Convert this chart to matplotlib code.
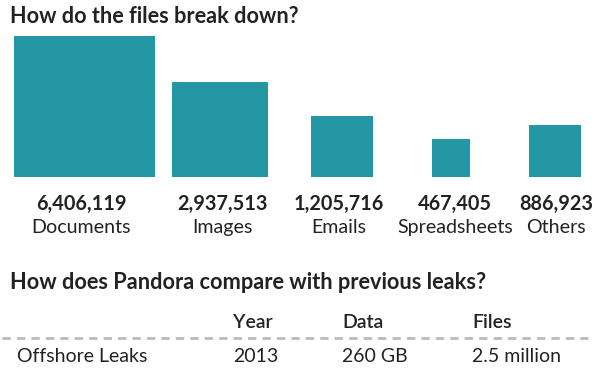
import numpy as np
import matplotlib
matplotlib.use("Agg")
import matplotlib.pyplot as plt

# ---- data ----
categories = ["Documents", "Images", "Emails", "Spreadsheets", "Others"]
file_counts = [6406119, 2937513, 1205716, 467405, 886923]
count_labels = ["6,406,119", "2,937,513", "1,205,716", "467,405", "886,923"]

table_columns = ["Year", "Data", "Files"]
leak_names = ["Offshore Leaks"]
leak_years = ["2013"]
leak_data = ["260 GB"]
leak_files = ["2.5 million"]

title1 = "How do the files break down?"
title2 = "How does Pandora compare with previous leaks?"

# ---- layout ----
W, H = 600, 372
TEAL = "#2397a3"
INK = "#222222"
FONT = "Lato"

fig = plt.figure(figsize=(W / 100, H / 100), dpi=100)
ax = fig.add_axes([0, 0, 1, 1])
ax.set_xlim(0, W)
ax.set_ylim(H, 0)
ax.axis("off")

col_centers = [84, 220, 342, 451, 555]
base_y = 177
scale = 141 / np.sqrt(max(file_counts))
sides = scale * np.sqrt(np.array(file_counts, dtype=float))

ax.bar(col_centers, -sides, width=sides, bottom=base_y, color=TEAL,
       edgecolor="none", linewidth=0)

ax.text(10, 23, title1, fontsize=15.6, fontweight="bold", color=INK,
        family=FONT, va="baseline", ha="left")

label_centers = [81, 222, 339, 455, 556]
for cx, num, cat in zip(label_centers, count_labels, categories):
    ax.text(cx, 210, num, fontsize=14.3, fontweight="bold", color=INK,
            family=FONT, ha="center", va="baseline")
    ax.text(cx, 233, cat, fontsize=14.1, color=INK,
            family=FONT, ha="center", va="baseline")

ax.text(10, 289, title2, fontsize=15.7, fontweight="bold", color=INK,
        family=FONT, va="baseline", ha="left")

col_x = [233, 342, 472]
for x, c in zip(col_x, table_columns):
    ax.text(x, 328, c, fontsize=14, fontweight="semibold", color=INK,
            family=FONT, va="baseline", ha="left")

ax.plot([2, 588], [337.5, 337.5], color="#bbbbbb", lw=2,
        linestyle=(0, (3, 2.2)), solid_capstyle="butt")

for i, name in enumerate(leak_names):
    y = 362
    ax.text(17, y, name, fontsize=14, color=INK, family=FONT, va="baseline")
    for x, v in zip(col_x, [leak_years[i], leak_data[i], leak_files[i]]):
        ax.text(x, y, v, fontsize=14, color=INK, family=FONT, va="baseline")

fig.savefig("out.png", dpi=100, facecolor="white")
